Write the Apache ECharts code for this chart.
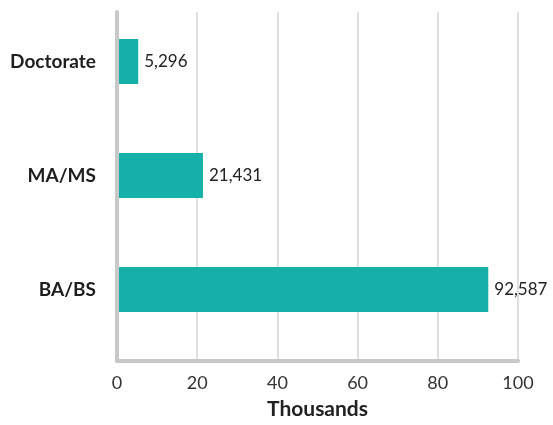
<!DOCTYPE html>
<html>
<head>
<meta charset="utf-8">
<script src="https://cdn.jsdelivr.net/npm/echarts@6/dist/echarts.min.js"></script>
<style>
html,body{margin:0;padding:0;background:#fff;}
#chart{width:553px;height:425px;}
</style>
</head>
<body>
<div id="chart"></div>
<script>
// Data (top-to-bottom order in picture: Doctorate, MA/MS, BA/BS)
const categories = ['BA/BS', 'MA/MS', 'Doctorate'];
const valuesThousands = [92.587, 21.431, 5.296];
const xTicks = [0, 20, 40, 60, 80, 100];
const axisTitle = 'Thousands';

const FONT = 'Lato';
const BAR_COLOR = '#15b1a8';
const AXIS_COLOR = '#c8c8c8';
const GRID_COLOR = '#d6d6d6';

const xMin = xTicks[0];
const xMax = xTicks[xTicks.length - 1];
const xStep = xTicks[1] - xTicks[0];

const chart = echarts.init(document.getElementById('chart'), null, {renderer: 'canvas'});
chart.setOption({
  animation: false,
  backgroundColor: '#fff',
  grid: [
    {left: 117, right: 35, top: 12, height: 351},     // frame: gridlines & axes
    {left: 117, right: 35, top: 4.5, height: 342}     // bars & category labels
  ],
  xAxis: [
    {
      gridIndex: 0, type: 'value', min: xMin, max: xMax, interval: xStep,
      axisLine: {show: true, lineStyle: {color: AXIS_COLOR, width: 4}},
      axisTick: {show: false},
      splitLine: {show: true, lineStyle: {color: GRID_COLOR, width: 1.5}},
      axisLabel: {color: '#333', fontFamily: FONT, fontSize: 18, margin: 13},
      name: axisTitle, nameLocation: 'middle', nameGap: 38,
      nameTextStyle: {fontFamily: FONT, fontWeight: 'bold', fontSize: 21, color: '#222'},
      z: 0
    },
    {
      gridIndex: 1, type: 'value', min: xMin, max: xMax, show: false
    }
  ],
  yAxis: [
    {
      gridIndex: 0, type: 'category', data: categories,
      axisLine: {show: true, lineStyle: {color: AXIS_COLOR, width: 4}},
      axisTick: {show: false}, axisLabel: {show: false}, splitLine: {show: false},
      z: 10
    },
    {
      gridIndex: 1, type: 'category', data: categories,
      axisLine: {show: false}, axisTick: {show: false}, splitLine: {show: false},
      axisLabel: {color: '#1e1e1e', fontFamily: FONT, fontWeight: 'bold', fontSize: 19, margin: 21}
    }
  ],
  series: [{
    type: 'bar',
    xAxisIndex: 1, yAxisIndex: 1,
    data: valuesThousands,
    barWidth: 45,
    itemStyle: {color: BAR_COLOR},
    label: {
      show: true, position: 'right', distance: 6,
      color: '#222', fontFamily: FONT, fontSize: 17,
      formatter: p => Math.round(p.value * 1000).toLocaleString('en-US')
    },
    z: 2
  }]
});
</script>
</body>
</html>
